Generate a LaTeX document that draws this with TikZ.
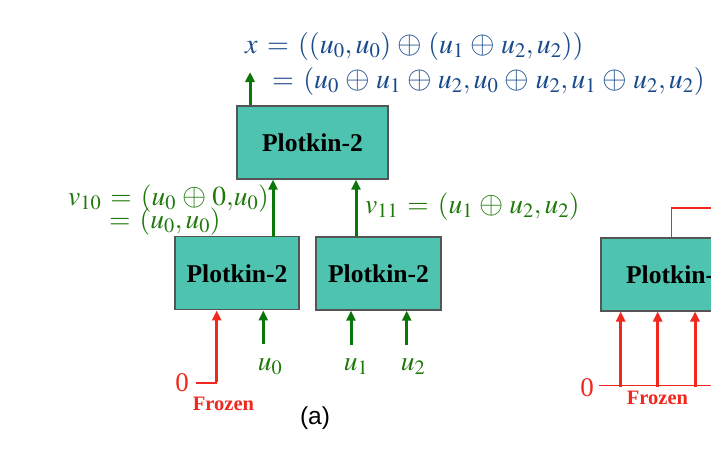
\documentclass[tikz,border=0pt]{standalone}
\usepackage{mathptmx}
\usepackage{fontspec}
\usepackage{graphicx}
\setmainfont{Liberation Serif}
\newfontfamily\arialfont{Liberation Sans}
\usetikzlibrary{arrows.meta}
\newcommand{\xop}{\mathbin{\raisebox{-0.6pt}{\scalebox{1.13}{$\oplus$}}}}
\definecolor{boxfill}{RGB}{78,196,176}
\definecolor{boxline}{RGB}{85,85,85}
\definecolor{arrgreen}{RGB}{10,118,10}
\definecolor{txtgreen}{RGB}{30,120,10}
\definecolor{txtblue}{RGB}{25,75,140}
\definecolor{frozred}{RGB}{240,40,30}
\tikzset{
  pbox/.style={draw=boxline, line width=1.3pt, fill=boxfill, minimum height=73pt,
    font=\fontsize{25.6}{30}\selectfont\bfseries, text=black, inner sep=0pt},
  garrow/.style={draw=arrgreen, line width=3pt, -{Triangle[length=10pt,width=9pt]}},
  rarrow/.style={draw=frozred, line width=3pt, -{Triangle[length=10pt,width=9pt]}},
  rline/.style={draw=frozred, line width=1.3pt},
  gtext/.style={text=txtgreen, font=\fontsize{27.5}{32}\selectfont, inner sep=0pt},
  btext/.style={text=txtblue, font=\fontsize{28}{32}\selectfont, inner sep=0pt},
  rtext/.style={text=frozred, font=\fontsize{27}{30}\selectfont, inner sep=0pt},
  frtext/.style={text=frozred, font=\fontsize{20.5}{24}\selectfont\bfseries, inner sep=0pt},
}
\begin{document}
\medmuskip=4mu plus 2mu minus 2mu
\thickmuskip=6mu plus 3mu
\begin{tikzpicture}[x=1pt,y=-1pt]
\useasboundingbox (0,0) rectangle (711,448);
% boxes
\node[pbox, minimum width=151pt] (top) at (312.5,142.5) {Plotkin-2};
\node[pbox, minimum width=124pt] (b1) at (237,273.3) {Plotkin-2};
\node[pbox, minimum width=125pt] (b2) at (378.5,273.5) {Plotkin-2};
\node[pbox, minimum width=151pt] (b3) at (676.5,274.5) {Plotkin-2};
% top equations
\node[btext, anchor=base west] (xl1) at (245,53) {$x=((u_0,u_0)\xop(u_1\xop u_2,u_2))$};
\node[btext, anchor=base west] (xl2) at (272,88) {$=(u_0\xop u_1\xop u_2,u_0\xop u_2,u_1\xop u_2,u_2)$};
\coordinate (xout) at (250,72);
\draw[garrow] (xout |- top.north) -- (xout);
% v labels
\node[gtext, anchor=base west] (v10a) at (68,205) {$v_{10}=(u_0\xop 0{,}u_0)$};
\node[gtext, anchor=base west] (v10b) at (109,228) {$=(u_0,u_0)$};
\node[gtext, anchor=base west] (v11) at (365,213) {$v_{11}=(u_1\xop u_2,u_2)$};
% connections bottom -> top
\coordinate (c1) at (273,237);
\coordinate (c2) at (356,237);
\draw[garrow] (c1) -- (c1 |- top.south);
\draw[garrow] (c2) -- (c2 |- top.south);
% inputs to b1
\node[gtext, anchor=base] (u0) at (270,370) {$u_0$};
\coordinate (i0) at (263.3,344);
\draw[garrow] (i0) -- (i0 |- b1.south);
\node[rtext, anchor=base] (z1) at (182,391) {0};
\coordinate (f0) at (196,383);
\coordinate (f1) at (216.7,383);
\draw[rline] (f0) -- (f1);
\draw[rarrow] ([yshift=0.7pt]f1) -- (f1 |- b1.south);
\node[frtext, anchor=base] (fr1) at (223.5,410) {Frozen};
% inputs to b2
\node[gtext, anchor=base] (u1) at (356,370) {$u_1$};
\node[gtext, anchor=base] (u2) at (413,370) {$u_2$};
\coordinate (i1) at (351,345);
\coordinate (i2) at (406.7,345);
\draw[garrow] (i1) -- (i1 |- b2.south);
\draw[garrow] (i2) -- (i2 |- b2.south);
% caption
\node[font=\arialfont\fontsize{24.5}{28}\selectfont, anchor=base, inner sep=0pt] (cap) at (315,424) {(a)};
% right box
\node[rtext, anchor=base] (z2) at (587,396) {0};
\coordinate (g0) at (599,385.7);
\coordinate (g1) at (760,385.7);
\draw[rline] (g0) -- (g1);
\foreach \xx in {620.7,657.7,695,732}{
  \draw[rarrow] (\xx,387) -- (\xx,311.5);
}
\node[frtext, anchor=base] (fr2) at (657.5,404) {Frozen};
\coordinate (t3) at (671.7,208);
\draw[rline] (t3 |- b3.north) -- (t3) -- (760,208);
\end{tikzpicture}
\end{document}
